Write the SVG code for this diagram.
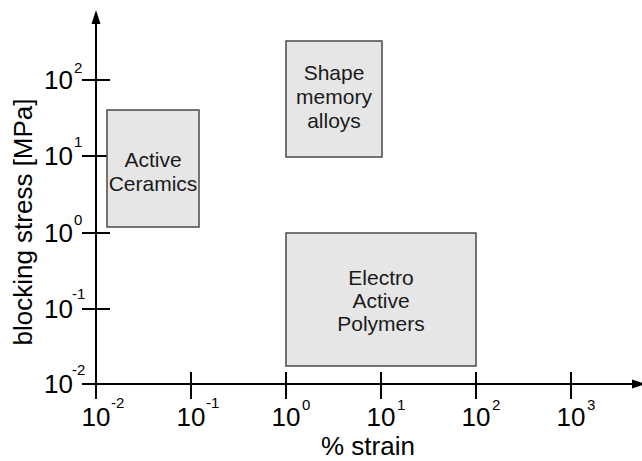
<svg xmlns="http://www.w3.org/2000/svg" width="642" height="461" viewBox="0 0 642 461">
<style>
.ax{stroke:#000;stroke-width:2;fill:none}
.tk{stroke:#000;stroke-width:2;fill:none}
.box{fill:#e6e6e6;stroke:#4a4a4a;stroke-width:1.5}
.bt{font-family:"Liberation Sans",Arial,sans-serif;font-size:21px;fill:#1a1a1a;text-anchor:middle}
.lb{font-family:"Liberation Sans",Arial,sans-serif;font-size:26px;fill:#000}
.sp{font-family:"Liberation Sans",Arial,sans-serif;font-size:15px;fill:#000}
</style>
<rect width="642" height="461" fill="#fff"/>
<g id="axes">
<line class="ax" x1="96" y1="22" x2="96" y2="399"/>
<polygon points="96,10 91.5,24 100.5,24" fill="#000"/>
<line class="ax" x1="82" y1="384" x2="634" y2="384"/>
<polygon points="646,384 632,379.5 632,388.5" fill="#000"/>
<g id="yticks">
<line class="tk" x1="82" y1="80" x2="110" y2="80"/>
<line class="tk" x1="82" y1="156" x2="110" y2="156"/>
<line class="tk" x1="82" y1="233" x2="110" y2="233"/>
<line class="tk" x1="82" y1="309" x2="110" y2="309"/>
</g>
<g id="xticks">
<line class="tk" x1="191" y1="372" x2="191" y2="399"/>
<line class="tk" x1="286" y1="372" x2="286" y2="399"/>
<line class="tk" x1="381" y1="372" x2="381" y2="399"/>
<line class="tk" x1="476" y1="372" x2="476" y2="399"/>
<line class="tk" x1="571" y1="372" x2="571" y2="399"/>
</g>
<g id="ylabels">
<text class="lb" x="73" y="89" text-anchor="end">10</text><text class="sp" x="74" y="73">2</text>
<text class="lb" x="73" y="165" text-anchor="end">10</text><text class="sp" x="74" y="147">1</text>
<text class="lb" x="73" y="242" text-anchor="end">10</text><text class="sp" x="74" y="225">0</text>
<text class="lb" x="73" y="318" text-anchor="end">10</text><text class="sp" x="72" y="299">-1</text>
<text class="lb" x="73" y="393" text-anchor="end">10</text><text class="sp" x="72" y="375">-2</text>
</g>
<g id="xlabels">
<text class="lb" x="96" y="426" text-anchor="middle">10</text><text class="sp" x="111" y="408">-2</text>
<text class="lb" x="191" y="426" text-anchor="middle">10</text><text class="sp" x="206" y="408">-1</text>
<text class="lb" x="286" y="426" text-anchor="middle">10</text><text class="sp" x="302" y="410">0</text>
<text class="lb" x="381" y="426" text-anchor="middle">10</text><text class="sp" x="397" y="410">1</text>
<text class="lb" x="476" y="426" text-anchor="middle">10</text><text class="sp" x="492" y="410">2</text>
<text class="lb" x="571" y="426" text-anchor="middle">10</text><text class="sp" x="587" y="410">3</text>
</g>
<text class="lb" x="368" y="455" text-anchor="middle">% strain</text>
<text class="lb" transform="translate(32,222) rotate(-90)" text-anchor="middle">blocking stress [MPa]</text>
</g>
<g id="ceramics">
<rect class="box" x="107" y="110" width="92" height="117"/>
<text class="bt" x="153" y="167">Active</text>
<text class="bt" x="153" y="191">Ceramics</text>
</g>
<g id="sma">
<rect class="box" x="286" y="41" width="96" height="116"/>
<text class="bt" x="334" y="80">Shape</text>
<text class="bt" x="334" y="104">memory</text>
<text class="bt" x="334" y="128">alloys</text>
</g>
<g id="eap">
<rect class="box" x="286" y="233" width="190" height="133"/>
<text class="bt" x="381" y="285">Electro</text>
<text class="bt" x="381" y="308">Active</text>
<text class="bt" x="381" y="331">Polymers</text>
</g>
</svg>
